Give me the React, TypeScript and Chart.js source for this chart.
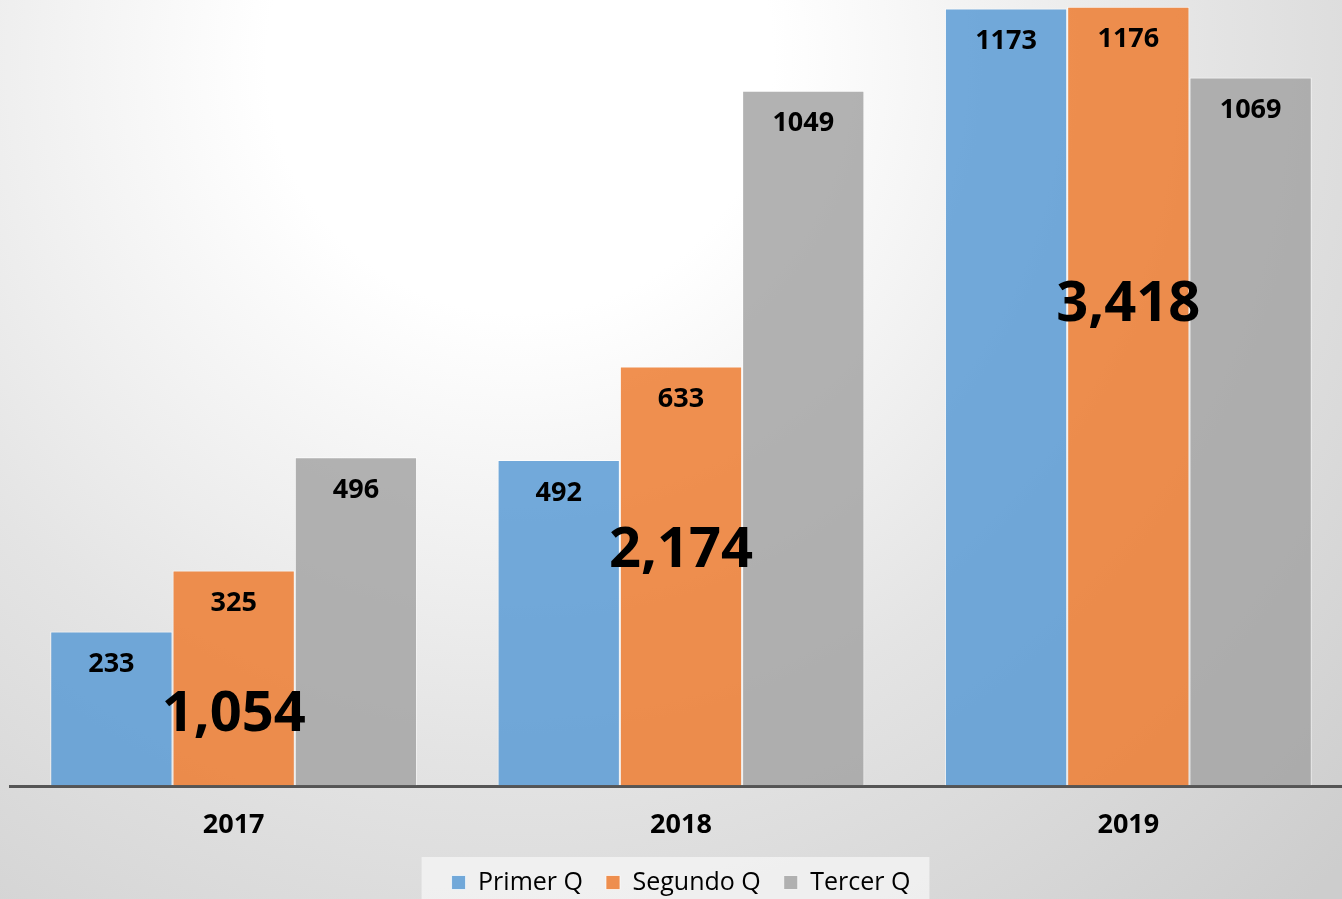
import React, { useEffect, useRef } from "react";
import { Chart, registerables } from "chart.js";

Chart.register(...registerables);

const categories = ["2017", "2018", "2019"];
const seriesNames = ["Primer Q", "Segundo Q", "Tercer Q"];
const primerQ = [233, 492, 1173];
const segundoQ = [325, 633, 1176];
const tercerQ = [496, 1049, 1069];
// value level at which each year's total label is centred
const totalLabelLevel = [107, 355, 725];

const colors = ["rgba(91,155,213,0.85)", "rgba(237,125,49,0.85)", "rgba(165,165,165,0.85)"];
const FONT = "'Open Sans', 'Noto Sans', sans-serif";

const bgPlugin = {
  id: "bgPlugin",
  beforeDraw(chart: any) {
    const { ctx, width, height } = chart;
    ctx.save();
    const g = ctx.createRadialGradient(520, 60, 0, 520, 60, 1150);
    g.addColorStop(0, "#ffffff");
    g.addColorStop(0.22, "#ffffff");
    g.addColorStop(0.6, "#e4e4e4");
    g.addColorStop(1, "#cdcdcd");
    ctx.fillStyle = g;
    ctx.fillRect(0, 0, width, height);
    const legend = chart.legend;
    if (legend && legend.legendHitBoxes && legend.legendHitBoxes.length) {
      const hb = legend.legendHitBoxes;
      const first = hb[0];
      const last = hb[hb.length - 1];
      const l = first.left - 30;
      const r = last.left + last.width + 19;
      ctx.fillStyle = "rgba(245,245,245,0.75)";
      ctx.fillRect(l, first.top - 13, r - l, height);
    }
    ctx.restore();
  },
};

const labelPlugin = {
  id: "labelPlugin",
  afterDatasetsDraw(chart: any) {
    const { ctx } = chart;
    ctx.save();
    ctx.fillStyle = "#000";
    ctx.textAlign = "center";
    ctx.textBaseline = "middle";
    ctx.font = `bold 27px ${FONT}`;
    chart.data.datasets.forEach((ds: any, di: number) => {
      const meta = chart.getDatasetMeta(di);
      meta.data.forEach((bar: any, i: number) => {
        ctx.fillText(String(ds.data[i]), bar.x, bar.y + 33);
      });
    });
    ctx.font = `bold 56px ${FONT}`;
    const yScale = chart.scales.y;
    const mid = chart.getDatasetMeta(1);
    categories.forEach((_, i) => {
      const total = primerQ[i] + segundoQ[i] + tercerQ[i];
      const x = mid.data[i].x;
      const y = yScale.getPixelForValue(totalLabelLevel[i]);
      ctx.fillText(total.toLocaleString("en-US"), x, y);
    });
    ctx.restore();
  },
};

export default function App() {
  const ref = useRef<HTMLCanvasElement>(null);
  useEffect(() => {
    const seriesData = [primerQ, segundoQ, tercerQ];
    const chart = new Chart(ref.current as HTMLCanvasElement, {
      type: "bar",
      data: {
        labels: categories,
        datasets: seriesNames.map((name, i) => ({
          label: name,
          data: seriesData[i],
          backgroundColor: colors[i],
          borderColor: "rgba(255,255,255,0.7)",
          borderWidth: 1,
          categoryPercentage: 0.82,
          barPercentage: 1,
        })),
      },
      options: {
        animation: false,
        responsive: false,
        maintainAspectRatio: false,
        layout: { padding: { left: 10, right: 1, top: 0, bottom: 0 } },
        plugins: {
          legend: {
            position: "bottom",
            labels: {
              boxWidth: 14,
              boxHeight: 14,
              padding: 23,
              color: "#000",
              font: { family: FONT, size: 25 },
            },
          },
          tooltip: { enabled: false },
        },
        scales: {
          x: {
            grid: { display: false, drawTicks: false },
            border: { display: true, color: "#555555", width: 3 },
            ticks: {
              padding: 23,
              color: "#000",
              font: { family: FONT, size: 27, weight: "bold" },
            },
            afterFit(scale: any) {
              scale.height = 61;
            },
          },
          y: {
            min: 0,
            max: 1186,
            ticks: { display: false, stepSize: 200 },
            border: { display: false },
            grid: {
              drawTicks: false,
              lineWidth: 1.5,
              color: (c: any) =>
                c.tick && c.tick.value > 0 && c.tick.value % 200 === 0 ? "#bdbdbd" : "rgba(0,0,0,0)",
            },
          },
        },
      },
      plugins: [bgPlugin, labelPlugin],
    } as any);
    return () => chart.destroy();
  }, []);
  return (
    <div style={{ position: "fixed", left: 0, top: 0, width: 1342, height: 899, overflow: "hidden" }}>
      <canvas ref={ref} width={1353} height={905} style={{ display: "block" }} />
    </div>
  );
}
